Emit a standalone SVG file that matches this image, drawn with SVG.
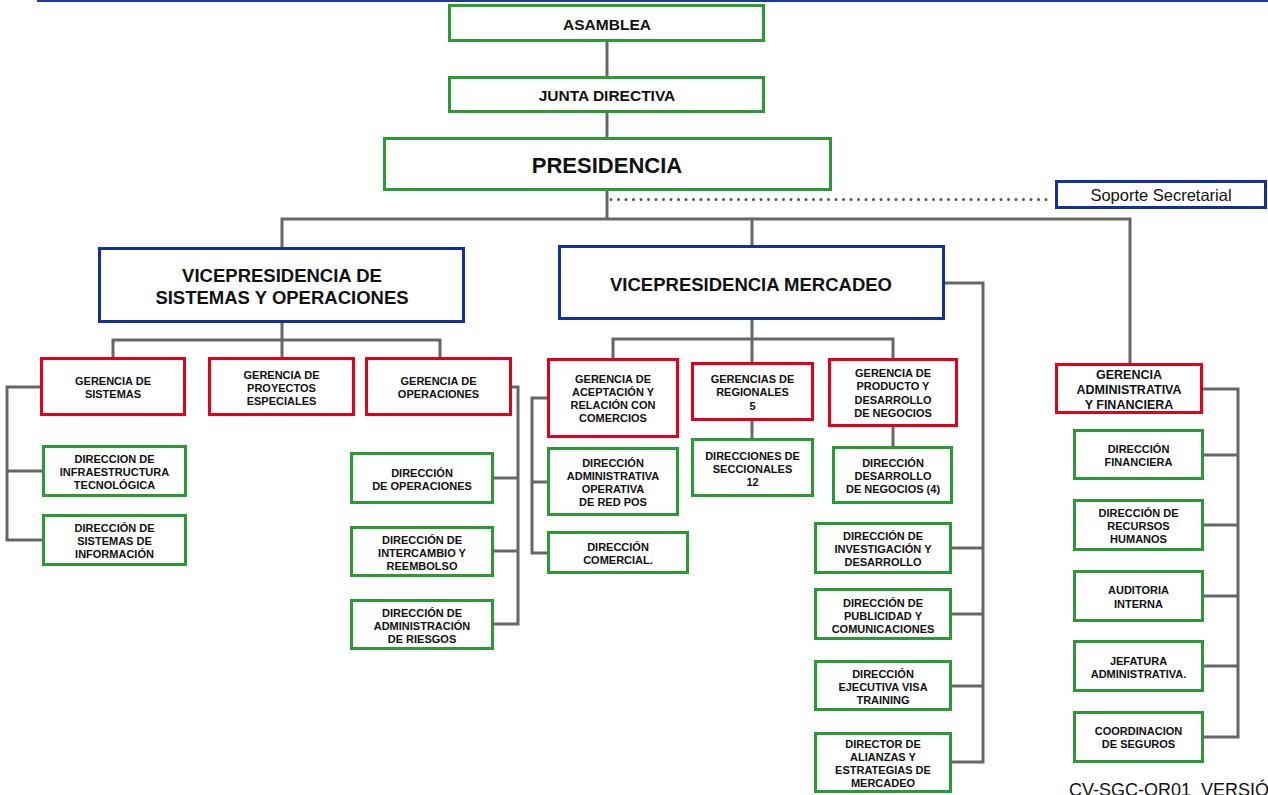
<svg xmlns="http://www.w3.org/2000/svg" width="1268" height="795" viewBox="0 0 1268 795">
  <style>
    .box { fill: #ffffff; stroke-width: 3; }
    .g { stroke: #2a9a34; }
    .r { stroke: #e2001c; }
    .b { stroke: #12319f; }
    .ln { fill: none; stroke: #666666; stroke-width: 3; }
    .dot { fill: none; stroke: #555555; stroke-width: 3; stroke-linecap: round; stroke-dasharray: 0 7.5; }
    text { font-family: "Liberation Sans", Arial, sans-serif; fill: #111111; text-anchor: middle; }
    .s { font-size: 11px; font-weight: bold; }
    .m { font-size: 12.5px; font-weight: bold; }
    .top { font-size: 15.5px; font-weight: bold; }
    .pres { font-size: 22px; font-weight: bold; }
    .vp { font-size: 18.5px; font-weight: bold; }
    .reg { font-size: 16.5px; }
    .foot { font-size: 18px; text-anchor: start; white-space: pre; }
  </style>

  <!-- header rule -->
  <line x1="37" y1="1" x2="1268" y2="1" stroke="#1b3a9b" stroke-width="2"/>

  <g id="connectors">
    <path class="ln" d="M607 42 V77"/>
    <path class="ln" d="M607 113 V137"/>
    <path class="ln" d="M607 191 V219"/>
    <path class="ln" d="M282 247 V219 H1130 V363"/>
    <path class="ln" d="M752 219 V245"/>
    <path class="dot" d="M611 199.5 H1053"/>
    <!-- vicepresidencia de sistemas y operaciones -->
    <path class="ln" d="M282 323 V357"/>
    <path class="ln" d="M113 357 V340 H440 V357"/>
    <path class="ln" d="M40 387 H7 V540 H43"/>
    <path class="ln" d="M7 471 H43"/>
    <path class="ln" d="M512 387 H518 V624 H494"/>
    <path class="ln" d="M518 478 H494"/>
    <path class="ln" d="M518 551 H494"/>
    <!-- vicepresidencia mercadeo -->
    <path class="ln" d="M752 320 V362"/>
    <path class="ln" d="M613 358 V339 H893 V358"/>
    <path class="ln" d="M547 398 H532 V553 H547"/>
    <path class="ln" d="M532 482 H547"/>
    <path class="ln" d="M752 421 V438"/>
    <path class="ln" d="M893 427 V446"/>
    <path class="ln" d="M945 283 H983 V762 H952"/>
    <path class="ln" d="M983 548 H952"/>
    <path class="ln" d="M983 614 H952"/>
    <path class="ln" d="M983 686 H952"/>
    <!-- gerencia administrativa y financiera -->
    <path class="ln" d="M1203 389 H1238 V737 H1204"/>
    <path class="ln" d="M1238 455 H1204"/>
    <path class="ln" d="M1238 525 H1204"/>
    <path class="ln" d="M1238 596 H1204"/>
    <path class="ln" d="M1238 666 H1204"/>
  </g>

  <g id="asamblea">
    <rect class="box g" x="449.5" y="5.5" width="314" height="35"/>
    <text class="top" x="607" y="30">ASAMBLEA</text>
  </g>
  <g id="junta-directiva">
    <rect class="box g" x="449.5" y="77.5" width="314" height="34"/>
    <text class="top" x="607" y="101">JUNTA DIRECTIVA</text>
  </g>
  <g id="presidencia">
    <rect class="box g" x="384.5" y="138.5" width="446" height="51"/>
    <text class="pres" x="607" y="172.5">PRESIDENCIA</text>
  </g>
  <g id="soporte-secretarial">
    <rect class="box b" x="1056.5" y="181.5" width="209" height="26" stroke-width="2.5"/>
    <text class="reg" x="1161" y="200.5">Soporte Secretarial</text>
  </g>

  <g id="vp-sistemas-operaciones">
    <rect class="box b" x="99.5" y="248.5" width="364" height="73"/>
    <text class="vp" x="282" y="282">VICEPRESIDENCIA DE</text>
    <text class="vp" x="282" y="304">SISTEMAS Y OPERACIONES</text>
  </g>
  <g id="vp-mercadeo">
    <rect class="box b" x="559.5" y="246.5" width="384" height="72"/>
    <text class="vp" x="751" y="290.5">VICEPRESIDENCIA MERCADEO</text>
  </g>

  <g id="gerencia-sistemas">
    <rect class="box r" x="41.5" y="358.5" width="143" height="56"/>
    <text class="s" x="113" y="385">GERENCIA DE</text>
    <text class="s" x="113" y="398">SISTEMAS</text>
  </g>
  <g id="gerencia-proyectos">
    <rect class="box r" x="209.5" y="358.5" width="144" height="56"/>
    <text class="s" x="281.5" y="379">GERENCIA DE</text>
    <text class="s" x="281.5" y="392">PROYECTOS</text>
    <text class="s" x="281.5" y="405">ESPECIALES</text>
  </g>
  <g id="gerencia-operaciones">
    <rect class="box r" x="366.5" y="358.5" width="144" height="56"/>
    <text class="s" x="438.5" y="385">GERENCIA DE</text>
    <text class="s" x="438.5" y="398">OPERACIONES</text>
  </g>
  <g id="dir-infraestructura">
    <rect class="box g" x="43.5" y="446.5" width="142" height="49"/>
    <text class="s" x="114.5" y="463">DIRECCION DE</text>
    <text class="s" x="114.5" y="476">INFRAESTRUCTURA</text>
    <text class="s" x="114.5" y="489">TECNOLÓGICA</text>
  </g>
  <g id="dir-sistemas-informacion">
    <rect class="box g" x="43.5" y="515.5" width="142" height="49"/>
    <text class="s" x="114.5" y="532">DIRECCIÓN DE</text>
    <text class="s" x="114.5" y="545">SISTEMAS DE</text>
    <text class="s" x="114.5" y="558">INFORMACIÓN</text>
  </g>
  <g id="dir-operaciones">
    <rect class="box g" x="351.5" y="453.5" width="141" height="49"/>
    <text class="s" x="422" y="476.5">DIRECCIÓN</text>
    <text class="s" x="422" y="489.5">DE OPERACIONES</text>
  </g>
  <g id="dir-intercambio">
    <rect class="box g" x="351.5" y="527.5" width="141" height="48"/>
    <text class="s" x="422" y="543.5">DIRECCIÓN DE</text>
    <text class="s" x="422" y="556.5">INTERCAMBIO Y</text>
    <text class="s" x="422" y="569.5">REEMBOLSO</text>
  </g>
  <g id="dir-riesgos">
    <rect class="box g" x="351.5" y="600.5" width="141" height="48"/>
    <text class="s" x="422" y="616.5">DIRECCIÓN DE</text>
    <text class="s" x="422" y="629.5">ADMINISTRACIÓN</text>
    <text class="s" x="422" y="642.5">DE RIESGOS</text>
  </g>

  <g id="gerencia-aceptacion">
    <rect class="box r" x="548.5" y="359.5" width="129" height="77"/>
    <text class="s" x="613" y="383">GERENCIA DE</text>
    <text class="s" x="613" y="396">ACEPTACIÓN Y</text>
    <text class="s" x="613" y="409">RELACIÓN CON</text>
    <text class="s" x="613" y="422">COMERCIOS</text>
  </g>
  <g id="dir-red-pos">
    <rect class="box g" x="548.5" y="448.5" width="129" height="66"/>
    <text class="s" x="613" y="466.5">DIRECCIÓN</text>
    <text class="s" x="613" y="479.5">ADMINISTRATIVA</text>
    <text class="s" x="613" y="492.5">OPERATIVA</text>
    <text class="s" x="613" y="506">DE RED POS</text>
  </g>
  <g id="dir-comercial">
    <rect class="box g" x="548.5" y="532.5" width="139" height="40"/>
    <text class="s" x="618" y="550.5">DIRECCIÓN</text>
    <text class="s" x="618" y="563.5">COMERCIAL.</text>
  </g>
  <g id="gerencias-regionales">
    <rect class="box r" x="692.5" y="363.5" width="120" height="56"/>
    <text class="s" x="752.5" y="382.5">GERENCIAS DE</text>
    <text class="s" x="752.5" y="395.5">REGIONALES</text>
    <text class="s" x="752.5" y="410">5</text>
  </g>
  <g id="dir-seccionales">
    <rect class="box g" x="692.5" y="439.5" width="120" height="56"/>
    <text class="s" x="752.5" y="459.5">DIRECCIONES DE</text>
    <text class="s" x="752.5" y="472.5">SECCIONALES</text>
    <text class="s" x="752.5" y="485.5">12</text>
  </g>
  <g id="gerencia-producto">
    <rect class="box r" x="829.5" y="359.5" width="127" height="66"/>
    <text class="s" x="893" y="377">GERENCIA DE</text>
    <text class="s" x="893" y="390">PRODUCTO Y</text>
    <text class="s" x="893" y="403.5">DESARROLLO</text>
    <text class="s" x="893" y="416.5">DE NEGOCIOS</text>
  </g>
  <g id="dir-desarrollo-negocios">
    <rect class="box g" x="833.5" y="447.5" width="118" height="55"/>
    <text class="s" x="893" y="467">DIRECCIÓN</text>
    <text class="s" x="893" y="480">DESARROLLO</text>
    <text class="s" x="893" y="493">DE NEGOCIOS (4)</text>
  </g>
  <g id="dir-investigacion">
    <rect class="box g" x="815.5" y="523.5" width="135" height="49"/>
    <text class="s" x="883" y="539.5">DIRECCIÓN DE</text>
    <text class="s" x="883" y="552.5">INVESTIGACIÓN Y</text>
    <text class="s" x="883" y="566">DESARROLLO</text>
  </g>
  <g id="dir-publicidad">
    <rect class="box g" x="815.5" y="589.5" width="135" height="49"/>
    <text class="s" x="883" y="606.5">DIRECCIÓN DE</text>
    <text class="s" x="883" y="619.5">PUBLICIDAD Y</text>
    <text class="s" x="883" y="632.5">COMUNICACIONES</text>
  </g>
  <g id="dir-visa-training">
    <rect class="box g" x="815.5" y="661.5" width="135" height="48"/>
    <text class="s" x="883" y="677.5">DIRECCIÓN</text>
    <text class="s" x="883" y="690.5">EJECUTIVA VISA</text>
    <text class="s" x="883" y="703.5">TRAINING</text>
  </g>
  <g id="dir-alianzas">
    <rect class="box g" x="815.5" y="733.5" width="135" height="58"/>
    <text class="s" x="883" y="747.5">DIRECTOR DE</text>
    <text class="s" x="883" y="760.5">ALIANZAS Y</text>
    <text class="s" x="883" y="773.5">ESTRATEGIAS DE</text>
    <text class="s" x="883" y="787">MERCADEO</text>
  </g>

  <g id="gerencia-administrativa">
    <rect class="box r" x="1056.5" y="364.5" width="145" height="48"/>
    <text class="m" x="1129" y="379">GERENCIA</text>
    <text class="m" x="1129" y="394">ADMINISTRATIVA</text>
    <text class="m" x="1129" y="409">Y FINANCIERA</text>
  </g>
  <g id="dir-financiera">
    <rect class="box g" x="1074.5" y="430.5" width="128" height="48"/>
    <text class="s" x="1138.5" y="452.5">DIRECCIÓN</text>
    <text class="s" x="1138.5" y="465.5">FINANCIERA</text>
  </g>
  <g id="dir-recursos-humanos">
    <rect class="box g" x="1074.5" y="500.5" width="128" height="49"/>
    <text class="s" x="1138.5" y="516.5">DIRECCIÓN DE</text>
    <text class="s" x="1138.5" y="530">RECURSOS</text>
    <text class="s" x="1138.5" y="543">HUMANOS</text>
  </g>
  <g id="auditoria-interna">
    <rect class="box g" x="1074.5" y="571.5" width="128" height="49"/>
    <text class="s" x="1138.5" y="594">AUDITORIA</text>
    <text class="s" x="1138.5" y="607.5">INTERNA</text>
  </g>
  <g id="jefatura-administrativa">
    <rect class="box g" x="1074.5" y="641.5" width="128" height="49"/>
    <text class="s" x="1138.5" y="665">JEFATURA</text>
    <text class="s" x="1138.5" y="678">ADMINISTRATIVA.</text>
  </g>
  <g id="coordinacion-seguros">
    <rect class="box g" x="1074.5" y="712.5" width="128" height="49"/>
    <text class="s" x="1138.5" y="735">COORDINACION</text>
    <text class="s" x="1138.5" y="748">DE SEGUROS</text>
  </g>

  <text class="foot" x="1069" y="796">CV-SGC-OR01  VERSIÓN</text>
</svg>
